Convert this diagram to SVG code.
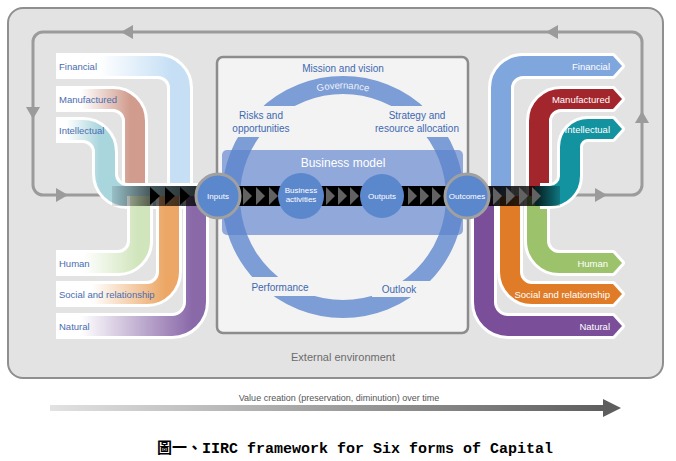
<svg xmlns="http://www.w3.org/2000/svg" width="676" height="461" viewBox="0 0 676 461">
<style>
.t{font-family:"Liberation Sans",Arial,sans-serif}
.lbl{font-size:9.5px;fill:#4a6cb0}
.rl{font-size:9.5px;fill:#ffffff;text-anchor:end}
.ctr{font-size:10px;fill:#3d68b0;text-anchor:middle}
.cir{font-size:8px;fill:#ffffff;text-anchor:middle}
.wo{fill:none;stroke:#ffffff;stroke-width:26}
.rb{fill:none;stroke-width:20}
.loop{fill:none;stroke:#9b9b9b;stroke-width:3}
.la{fill:#9b9b9b}
.gap{fill:#f3f3f3}
.node{fill:#5b87cd}
.edge{stroke:#a0a0a0;stroke-width:3}
.tb{fill:#000000}
.tg{fill:#626262}
</style>
<defs>
<linearGradient id="gF" gradientUnits="userSpaceOnUse" x1="60" y1="0" x2="172" y2="0"><stop offset="0" stop-color="#ffffff"/><stop offset="0.35" stop-color="#ffffff"/><stop offset="1" stop-color="#c6dff5"/></linearGradient>
<linearGradient id="gM" gradientUnits="userSpaceOnUse" x1="60" y1="0" x2="130" y2="0"><stop offset="0" stop-color="#ffffff"/><stop offset="0.3" stop-color="#ffffff"/><stop offset="1" stop-color="#d19c8e"/></linearGradient>
<linearGradient id="gI" gradientUnits="userSpaceOnUse" x1="58" y1="0" x2="100" y2="0"><stop offset="0" stop-color="#ffffff"/><stop offset="0.2" stop-color="#ffffff"/><stop offset="1" stop-color="#a9d5dd"/></linearGradient>
<linearGradient id="gH" gradientUnits="userSpaceOnUse" x1="60" y1="0" x2="138" y2="0"><stop offset="0" stop-color="#ffffff"/><stop offset="0.3" stop-color="#ffffff"/><stop offset="1" stop-color="#d1e5bc"/></linearGradient>
<linearGradient id="gS" gradientUnits="userSpaceOnUse" x1="60" y1="0" x2="165" y2="0"><stop offset="0" stop-color="#ffffff"/><stop offset="0.3" stop-color="#ffffff"/><stop offset="1" stop-color="#eca766"/></linearGradient>
<linearGradient id="gN" gradientUnits="userSpaceOnUse" x1="60" y1="0" x2="192" y2="0"><stop offset="0" stop-color="#ffffff"/><stop offset="0.15" stop-color="#ffffff"/><stop offset="1" stop-color="#8a69a9"/></linearGradient>
<linearGradient id="gL" gradientUnits="userSpaceOnUse" x1="112" y1="0" x2="200" y2="0"><stop offset="0" stop-color="#000000" stop-opacity="0.1"/><stop offset="0.45" stop-color="#000000" stop-opacity="0.6"/><stop offset="1" stop-color="#000000" stop-opacity="0.8"/></linearGradient>
<linearGradient id="gR" gradientUnits="userSpaceOnUse" x1="487" y1="0" x2="560" y2="0"><stop offset="0" stop-color="#000000" stop-opacity="0.9"/><stop offset="0.7" stop-color="#000000" stop-opacity="0.75"/><stop offset="1" stop-color="#000000" stop-opacity="0.2"/></linearGradient>
<linearGradient id="gV" gradientUnits="userSpaceOnUse" x1="50" y1="0" x2="606" y2="0"><stop offset="0" stop-color="#e2e2e2"/><stop offset="1" stop-color="#5e5e5e"/></linearGradient>
<path id="govArc" d="M234.5,197 A108.5,108.5 0 0 1 451.5,197"/>
</defs>

<g id="external-environment">
<rect x="8" y="8" width="655" height="370" rx="15" fill="#e3e3e3" stroke="#8f8f8f" stroke-width="2"/>
<text class="t" x="343" y="361" font-size="11" fill="#6b6b6b" text-anchor="middle">External environment</text>
</g>

<g id="connectors">
<path class="loop" d="M120,195 H43 A10,10 0 0 1 33,185 V42 A10,10 0 0 1 43,32 H632 A10,10 0 0 1 642,42 V185 A10,10 0 0 1 632,195 H560"/>
<polygon class="la" points="121,32 133,25 133,39"/>
<polygon class="la" points="546,32 558,25 558,39"/>
<polygon class="la" points="26,107 40,107 33,119"/>
<polygon class="la" points="635,123 649,123 642,111"/>
<polygon class="la" points="56,188 56,202 68,195"/>
<polygon class="la" points="595,188 595,202 607,195"/>
</g>

<g id="organisation">
<rect x="217" y="57" width="251" height="276" rx="6" fill="#f3f3f3" stroke="#8c8c8c" stroke-width="2.5"/>
<rect x="222" y="150" width="241" height="85" rx="5" fill="#91a9da"/>
<circle cx="343" cy="197" r="112" fill="none" stroke="#5a84cc" stroke-opacity="0.78" stroke-width="18"/>
<rect class="gap" x="226" y="106" width="72" height="31"/>
<rect class="gap" x="386" y="106" width="76" height="31"/>
<rect class="gap" x="240" y="277" width="78" height="19"/>
<rect class="gap" x="372" y="281" width="72" height="16"/>
<text class="t ctr" x="343" y="72">Mission and vision</text>
<text class="t" font-size="9.5" fill="#eef2fa" text-anchor="middle"><textPath href="#govArc" startOffset="50%">Governance</textPath></text>
<text class="t ctr" x="261" y="118.5">Risks and</text>
<text class="t ctr" x="261" y="132">opportunities</text>
<text class="t ctr" x="417" y="118.5">Strategy and</text>
<text class="t ctr" x="417" y="132">resource allocation</text>
<text class="t" x="343" y="167" font-size="12" fill="#ffffff" text-anchor="middle">Business model</text>
<text class="t ctr" x="280" y="291" font-size="9.5">Performance</text>
<text class="t ctr" x="399" y="293" font-size="9.5">Outlook</text>
</g>

<g id="input-capitals">
<g id="in-financial"><path class="wo" d="M56,66 H158 A22,22 0 0 1 180,88 V196"/><path class="rb" stroke="url(#gF)" d="M56,66 H158 A22,22 0 0 1 180,88 V196"/><text class="t lbl" x="59" y="69.5">Financial</text></g>
<g id="in-manufactured"><path class="wo" d="M56,99 H113 A22,22 0 0 1 135,121 V196"/><path class="rb" stroke="url(#gM)" d="M56,99 H113 A22,22 0 0 1 135,121 V196"/><text class="t lbl" x="59" y="102.5">Manufactured</text></g>
<g id="in-intellectual"><path class="wo" d="M56,130 H83 A22,22 0 0 1 105,152 V174 A22,22 0 0 0 127,196 H200"/><path class="rb" stroke="url(#gI)" d="M56,130 H83 A22,22 0 0 1 105,152 V174 A22,22 0 0 0 127,196 H200"/><text class="t lbl" x="59" y="133.5">Intellectual</text></g>
<g id="in-human"><path class="wo" d="M56,263 H118 A22,22 0 0 0 140,241 V196"/><path class="rb" stroke="url(#gH)" d="M56,263 H118 A22,22 0 0 0 140,241 V196"/><text class="t lbl" x="59" y="266.5">Human</text></g>
<g id="in-social"><path class="wo" d="M56,294 H147 A22,22 0 0 0 169,272 V196"/><path class="rb" stroke="url(#gS)" d="M56,294 H147 A22,22 0 0 0 169,272 V196"/><text class="t lbl" x="59" y="297.5">Social and relationship</text></g>
<g id="in-natural"><path class="wo" d="M56,326 H172 A24,24 0 0 0 196,302 V196"/><path class="rb" stroke="url(#gN)" d="M56,326 H172 A24,24 0 0 0 196,302 V196"/><text class="t lbl" x="59" y="329.5">Natural</text></g>
</g>

<g id="output-capitals">
<g id="out-natural"><path class="wo" d="M484,196 V302 A24,24 0 0 0 508,326 H606"/><polygon points="604,316 613,316 622,326 613,336 604,336" fill="#ffffff" stroke="#ffffff" stroke-width="6" stroke-linejoin="round"/><path class="rb" stroke="#7b4e99" d="M484,196 V302 A24,24 0 0 0 508,326 H606"/><polygon points="604,316 613,316 622,326 613,336 604,336" fill="#7b4e99"/><text class="t rl" x="610" y="329.5">Natural</text></g>
<g id="out-social"><path class="wo" d="M510,196 V272 A22,22 0 0 0 532,294 H606"/><polygon points="604,284 613,284 622,294 613,304 604,304" fill="#ffffff" stroke="#ffffff" stroke-width="6" stroke-linejoin="round"/><path class="rb" stroke="#e07c27" d="M510,196 V272 A22,22 0 0 0 532,294 H606"/><polygon points="604,284 613,284 622,294 613,304 604,304" fill="#e07c27"/><text class="t rl" x="610" y="297.5">Social and relationship</text></g>
<g id="out-human"><path class="wo" d="M537,196 V241 A22,22 0 0 0 559,263 H606"/><polygon points="604,253 613,253 622,263 613,273 604,273" fill="#ffffff" stroke="#ffffff" stroke-width="6" stroke-linejoin="round"/><path class="rb" stroke="#9cc36c" d="M537,196 V241 A22,22 0 0 0 559,263 H606"/><polygon points="604,253 613,253 622,263 613,273 604,273" fill="#9cc36c"/><text class="t rl" x="608" y="266.5">Human</text></g>
<g id="out-financial"><path class="wo" d="M501,196 V88 A22,22 0 0 1 523,66 H606"/><polygon points="604,56 613,56 622,66 613,76 604,76" fill="#ffffff" stroke="#ffffff" stroke-width="6" stroke-linejoin="round"/><path class="rb" stroke="#7fa6dd" d="M501,196 V88 A22,22 0 0 1 523,66 H606"/><polygon points="604,56 613,56 622,66 613,76 604,76" fill="#7fa6dd"/><text class="t rl" x="610" y="69.5">Financial</text></g>
<g id="out-manufactured"><path class="wo" d="M539,196 V121 A22,22 0 0 1 561,99 H606"/><polygon points="604,89 613,89 622,99 613,109 604,109" fill="#ffffff" stroke="#ffffff" stroke-width="6" stroke-linejoin="round"/><path class="rb" stroke="#a3262c" d="M539,196 V121 A22,22 0 0 1 561,99 H606"/><polygon points="604,89 613,89 622,99 613,109 604,109" fill="#a3262c"/><text class="t rl" x="610" y="102.5">Manufactured</text></g>
<g id="out-intellectual"><path class="wo" d="M540,196 H550 A20,20 0 0 0 570,176 V147 A18,18 0 0 1 588,129 H606"/><polygon points="604,119 613,119 622,129 613,139 604,139" fill="#ffffff" stroke="#ffffff" stroke-width="6" stroke-linejoin="round"/><path class="rb" stroke="#13939f" d="M535,196 H550 A20,20 0 0 0 570,176 V147 A18,18 0 0 1 588,129 H606"/><polygon points="604,119 613,119 622,129 613,139 604,139" fill="#13939f"/><text class="t rl" x="610" y="132.5">Intellectual</text></g>
</g>

<g id="flow-strip">
<rect x="112" y="186" width="88" height="20" fill="url(#gL)"/>
<polygon class="tb" points="150,187 160,196 150,205"/>
<polygon class="tb" points="165,187 175,196 165,205"/>
<polygon class="tb" points="180,187 190,196 180,205"/>
<rect x="230" y="186" width="225" height="20" fill="#000000"/>
<polygon class="tg" points="243,187 252,196 243,205"/>
<polygon class="tg" points="256,187 265,196 256,205"/>
<polygon class="tg" points="269,187 278,196 269,205"/>
<polygon class="tg" points="326,187 335,196 326,205"/>
<polygon class="tg" points="338,187 347,196 338,205"/>
<polygon class="tg" points="350,187 359,196 350,205"/>
<polygon class="tg" points="408,187 417,196 408,205"/>
<polygon class="tg" points="420,187 429,196 420,205"/>
<polygon class="tg" points="432,187 441,196 432,205"/>
<rect x="487" y="186" width="73" height="20" fill="url(#gR)"/>
<polygon class="tg" points="493,187 502,196 493,205"/>
<polygon class="tg" points="506,187 515,196 506,205"/>
<polygon class="tg" points="519,187 528,196 519,205"/>
<polygon class="tg" points="532,187 541,196 532,205"/>
</g>

<g id="inputs"><circle class="node edge" cx="218" cy="196" r="22"/><text class="t cir" x="218" y="199">Inputs</text></g>
<g id="business-activities"><circle class="node" cx="301" cy="196" r="23"/><text class="t cir" x="301" y="193">Business</text><text class="t cir" x="301" y="202">activities</text></g>
<g id="outputs"><circle class="node" cx="382" cy="196" r="22"/><text class="t cir" x="382" y="199">Outputs</text></g>
<g id="outcomes"><circle class="node edge" cx="467" cy="196" r="22"/><text class="t cir" x="467" y="199" font-size="7.8">Outcomes</text></g>

<g id="value-arrow">
<rect x="50" y="405" width="556" height="6" fill="url(#gV)"/>
<polygon points="603,399 621,408 603,417" fill="#5e5e5e"/>
<text class="t" x="339" y="401" font-size="9" fill="#555555" text-anchor="middle">Value creation (preservation, diminution) over time</text>
</g>

<text x="157" y="453" font-family="'Liberation Mono','Noto Sans CJK TC',monospace" font-size="15" font-weight="bold" fill="#000000">圖一、IIRC framework for Six forms of Capital</text>
</svg>
